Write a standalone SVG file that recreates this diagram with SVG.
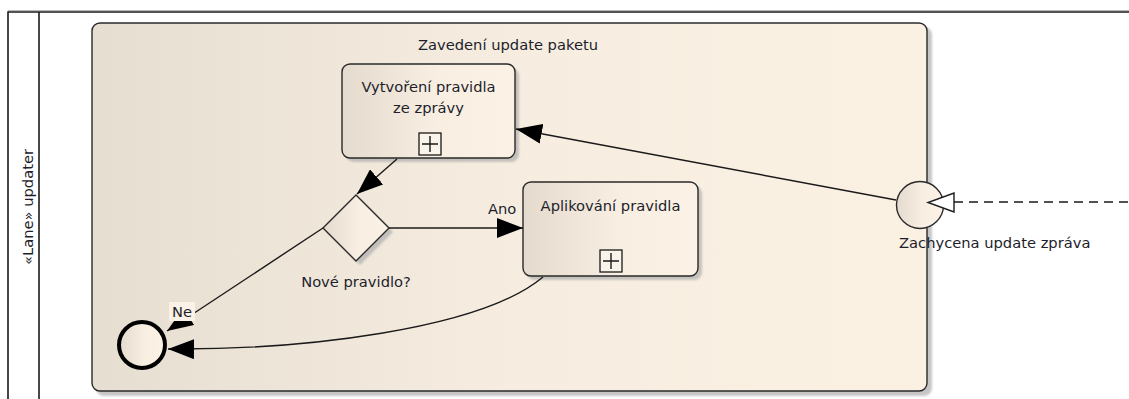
<svg xmlns="http://www.w3.org/2000/svg" width="1129" height="399" viewBox="0 0 1129 399">
  <style>
    text { font-family: "DejaVu Sans", "Noto Sans", sans-serif; font-size: 14.7px; fill: #1e1e2c; }
    .frame { fill: none; stroke: #1a1a1a; stroke-width: 1.6; }
    .halo { fill: none; stroke: #b8b8b8; stroke-width: 1; }
    .shape { stroke: #2a2a2a; stroke-width: 1.4; }
    .shadow { fill: #a9a9a9; opacity: 0.65; filter: url(#soft); }
    .flow { fill: none; stroke: #1a1a1a; stroke-width: 1.4; }
    .msg { fill: none; stroke: #1a1a1a; stroke-width: 1.4; stroke-dasharray: 9 6; }
    .plus { fill: #faf3ea; stroke: #1a1a1a; stroke-width: 1.3; }
    .mid { text-anchor: middle; }
  </style>
  <defs>
    <linearGradient id="fillTask" x1="0" y1="0" x2="1" y2="0">
      <stop offset="0" stop-color="#e4dacd"/>
      <stop offset="0.55" stop-color="#f8efe2"/>
      <stop offset="1" stop-color="#fbf2e5"/>
    </linearGradient>
    <linearGradient id="fillPool" x1="0" y1="0" x2="1" y2="0">
      <stop offset="0" stop-color="#e7ded2"/>
      <stop offset="0.5" stop-color="#f6ede0"/>
      <stop offset="1" stop-color="#fbf1e3"/>
    </linearGradient>
    <filter id="soft" x="-10%" y="-10%" width="120%" height="120%">
      <feGaussianBlur stdDeviation="1"/>
    </filter>
    <marker id="arrow" viewBox="0 0 26 20" refX="26" refY="10" markerWidth="26" markerHeight="20" markerUnits="userSpaceOnUse" orient="auto">
      <path d="M0,0 L26,10 L0,20 Z" fill="#000"/>
    </marker>
  </defs>

  <!-- lane frame -->
  <g id="lane">
    <line class="halo" x1="8" y1="10.5" x2="1129" y2="10.5"/>
    <path class="frame" d="M8,399 V12 H1129"/>
    <line class="frame" x1="39" y1="12" x2="39" y2="399"/>
    <text transform="translate(33,207) rotate(-90)" class="mid">«Lane» updater</text>
  </g>

  <!-- expanded sub-process -->
  <g id="subprocess">
    <rect class="shadow" x="96" y="27" width="836" height="369" rx="8"/>
    <rect class="shape" x="92" y="23" width="835" height="368" rx="8" fill="url(#fillPool)"/>
    <text x="508" y="50" class="mid">Zavedení update paketu</text>
  </g>

  <!-- task: create rule -->
  <g id="task-vytvoreni">
    <rect class="shadow" x="346" y="68" width="173" height="94" rx="8"/>
    <rect class="shape" x="342" y="64" width="173" height="94" rx="8" fill="url(#fillTask)"/>
    <text x="428.5" y="92" class="mid">Vytvoření pravidla</text>
    <text x="428.5" y="113" class="mid">ze zprávy</text>
    <rect class="plus" x="419" y="133" width="22" height="22"/>
    <path class="flow" d="M422,144 H438 M430,136 V152"/>
  </g>

  <!-- task: apply rule -->
  <g id="task-aplikovani">
    <rect class="shadow" x="527" y="186" width="175" height="94" rx="8"/>
    <rect class="shape" x="523" y="182" width="175" height="94" rx="8" fill="url(#fillTask)"/>
    <text x="610.5" y="211" class="mid">Aplikování pravidla</text>
    <rect class="plus" x="600" y="250" width="22" height="22"/>
    <path class="flow" d="M603,261 H619 M611,253 V269"/>
  </g>

  <!-- gateway -->
  <g id="gateway">
    <polygon class="shadow" points="360,199 393,232 360,265 327,232"/>
    <polygon class="shape" points="356,195 389,228 356,261 323,228" fill="url(#fillTask)"/>
    <text x="356" y="287" class="mid">Nové pravidlo?</text>
  </g>

  <!-- message start event -->
  <g id="start-event">
    <circle class="shape" cx="920" cy="205" r="23.5" fill="url(#fillTask)"/>
    <text x="899" y="248">Zachycena update zpráva</text>
  </g>

  <!-- end event -->
  <g id="end-event">
    <circle cx="142" cy="345" r="23" fill="url(#fillTask)" stroke="#000" stroke-width="4"/>
  </g>

  <!-- connectors -->
  <g id="connectors">
    <line class="flow" x1="896" y1="200" x2="516" y2="129" marker-end="url(#arrow)"/>
    <line class="flow" x1="397" y1="159" x2="357" y2="194" marker-end="url(#arrow)"/>
    <line class="flow" x1="389" y1="228" x2="523" y2="228" marker-end="url(#arrow)"/>
    <text x="488" y="214">Ano</text>
    <line class="flow" x1="323" y1="228" x2="167" y2="331" marker-end="url(#arrow)"/>
    <rect x="169" y="302" width="26" height="19" fill="#faf2e6"/>
    <text x="172" y="317">Ne</text>
    <path class="flow" d="M543,277 C480,330 300,350 168,349" marker-end="url(#arrow)"/>
    <!-- incoming message flow -->
    <line class="msg" x1="954" y1="202" x2="1129" y2="202"/>
    <polygon points="954,193 954,212 928,202.5" fill="#fff" stroke="#1a1a1a" stroke-width="1.4"/>
  </g>
</svg>
